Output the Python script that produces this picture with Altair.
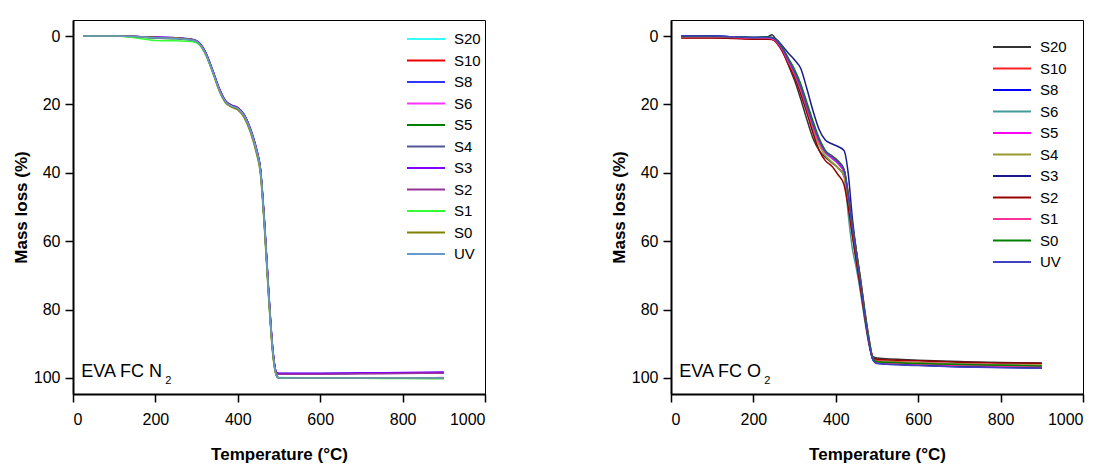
import altair as alt
import pandas as pd

SERIES = ["S20", "S10", "S8", "S6", "S5", "S4", "S3", "S2", "S1", "S0", "UV"]

# ---------------- N2 panel ----------------
T_N2 = [25, 100, 150, 200, 250, 280, 300, 320, 340, 355, 370, 385, 400, 415, 430, 445, 455, 465, 475, 485, 495, 500, 600, 700, 800, 900]
N2_S20 = [0, 0, 0.1, 0.4, 0.6, 0.8, 1.3, 4.2, 10.2, 15.3, 18.9, 20.2, 20.9, 22.8, 26.8, 32.6, 38.5, 54.0, 74.0, 91.5, 99.4, 99.9, 100, 100, 100, 100]
N2_S10 = [0, 0, 0.1, 0.4, 0.6, 0.9, 1.5, 4.5, 10.6, 15.6, 19.1, 20.4, 21.1, 23.1, 27.2, 33.2, 39.3, 55.5, 75.5, 92.3, 99.5, 100, 100.1, 100.1, 100.1, 100.1]
N2_S8 = [0, 0, 0.1, 0.3, 0.5, 0.8, 1.4, 4.4, 10.4, 15.4, 19.0, 20.3, 21.0, 23.0, 27.0, 33.0, 39.0, 55.0, 75.0, 91.8, 98.6, 98.7, 98.7, 98.6, 98.5, 98.4]
N2_S6 = [0, 0, 0.1, 0.4, 0.6, 0.9, 1.5, 4.6, 10.6, 15.6, 19.1, 20.4, 21.1, 23.2, 27.3, 33.3, 39.4, 55.6, 75.6, 92.4, 99.5, 100, 100, 100, 100, 99.9]
N2_S5 = [0, 0, 0.2, 0.6, 0.8, 1.1, 1.7, 4.8, 10.8, 15.8, 19.2, 20.5, 21.2, 23.3, 27.4, 33.5, 39.6, 56.0, 76.0, 92.6, 99.6, 100, 100.1, 100.1, 100.1, 100.2]
N2_S4 = [0, 0, 0.1, 0.4, 0.6, 0.9, 1.5, 4.5, 10.5, 15.5, 19.0, 20.3, 21.0, 23.0, 27.0, 33.0, 39.0, 55.0, 75.0, 91.8, 98.7, 98.8, 98.8, 98.7, 98.6, 98.5]
N2_S3 = [0, 0, 0.1, 0.3, 0.5, 0.8, 1.4, 4.3, 10.3, 15.3, 18.9, 20.2, 20.9, 22.9, 26.9, 32.8, 38.8, 54.6, 74.6, 91.6, 98.5, 98.6, 98.6, 98.5, 98.4, 98.3]
N2_S2 = [0, 0, 0.1, 0.4, 0.6, 0.9, 1.5, 4.5, 10.5, 15.5, 19.0, 20.3, 21.0, 23.0, 27.0, 33.0, 39.0, 55.0, 75.0, 91.9, 98.8, 98.9, 98.9, 98.8, 98.7, 98.6]
N2_S1 = [0, 0, 0.5, 1.3, 1.4, 1.5, 2.0, 5.0, 11.0, 16.0, 19.4, 20.6, 21.3, 23.4, 27.5, 33.6, 39.8, 56.2, 76.2, 92.8, 99.6, 100, 100.1, 100.1, 100.2, 100.2]
N2_S0 = [0, 0, 0.1, 0.4, 0.6, 0.9, 1.6, 4.8, 10.9, 16.0, 19.5, 20.8, 21.6, 23.8, 28.0, 34.2, 40.5, 57.0, 77.0, 93.2, 99.7, 100, 100, 100, 100, 100]
N2_UV = [0, 0, 0.1, 0.5, 0.7, 1.0, 1.6, 4.7, 10.7, 15.7, 19.2, 20.5, 21.2, 23.3, 27.4, 33.4, 39.6, 55.8, 75.8, 92.5, 99.6, 100, 100, 100, 100, 100]
N2_VALUES = [N2_S20, N2_S10, N2_S8, N2_S6, N2_S5, N2_S4, N2_S3, N2_S2, N2_S1, N2_S0, N2_UV]
N2_COLORS = ["#33ffff", "#ee0000", "#3333ff", "#ff33ff", "#007f00", "#55559a", "#7f00ff", "#993399", "#33ff33", "#808000", "#6699cc"]

# ---------------- O2 panel ----------------
T_O2 = [25, 100, 150, 200, 235, 245, 255, 270, 285, 300, 315, 330, 345, 360, 375, 390, 405, 420, 430, 440, 450, 460, 470, 480, 490, 500, 600, 700, 800, 900]
O2_S20 = [0.3, 0.3, 0.4, 0.5, 0.2, -0.4, 1.0, 4.0, 8.5, 13.0, 18.5, 24.5, 30.0, 33.5, 35.5, 37.0, 38.5, 41.0, 49, 58, 66, 74, 82, 89, 93.8, 94.2, 94.8, 95.2, 95.5, 95.6]
O2_S10 = [0.5, 0.5, 0.6, 0.8, 0.8, 0.9, 1.6, 4.2, 7.8, 11.5, 16, 21.5, 27, 31.5, 34, 35, 36.5, 39, 46, 55, 63, 71, 80, 88, 94, 95, 95.5, 95.9, 96.1, 96.3]
O2_S8 = [0, 0, 0.2, 0.4, 0.4, 0.6, 1.4, 3.8, 7.5, 11, 15.5, 21, 26.5, 31, 34, 35.5, 37, 39.5, 47, 56, 64, 72, 81, 89, 94.5, 95.6, 96.2, 96.6, 96.8, 97]
O2_S6 = [0.3, 0.3, 0.4, 0.6, 0.6, 0.8, 1.5, 4, 7.8, 11.5, 16, 21.5, 27, 31.5, 34.2, 35.8, 37.3, 40, 52, 62, 68, 75, 83, 90, 94.5, 95.3, 95.7, 96, 96.2, 96.4]
O2_S5 = [0.2, 0.2, 0.3, 0.5, 0.5, 0.7, 1.4, 3.8, 7.5, 11, 15.5, 21, 26.5, 31, 34, 35.6, 37.2, 39.8, 47, 56, 64, 72, 81, 89, 94.6, 95.5, 96, 96.4, 96.6, 96.8]
O2_S4 = [0.3, 0.3, 0.5, 0.7, 0.7, 0.9, 1.6, 4.2, 8, 11.8, 16.5, 22, 27.5, 32, 35, 36.8, 38.5, 41, 49, 57, 65, 73, 81, 89, 94.4, 95.2, 95.6, 96, 96.2, 96.3]
O2_S3 = [0, 0, 0.2, 0.4, 0.3, 0.4, 0.9, 2.8, 5, 7, 9.5, 15.5, 22, 27.5, 30.5, 31.5, 32.3, 33.5, 40, 53, 63, 72, 81, 89, 94.6, 95.7, 96.3, 96.7, 96.9, 97.1]
O2_S2 = [0.6, 0.6, 0.7, 0.9, 0.9, 1.0, 1.8, 4.5, 8.3, 12, 17, 22.5, 28.5, 33.5, 36.5, 38, 40.5, 43.5, 50, 58, 66, 74, 82, 89.5, 94.2, 94.5, 95, 95.4, 95.6, 95.7]
O2_S1 = [0.3, 0.3, 0.4, 0.6, 0.6, 0.8, 1.5, 3.9, 7.6, 11.2, 15.8, 21.2, 26.8, 31.2, 34, 35.3, 36.8, 39.3, 46.5, 55.5, 63.5, 71.5, 80.5, 88.5, 94.3, 95.4, 95.9, 96.3, 96.5, 96.7]
O2_S0 = [0.1, 0.1, 0.2, 0.4, 0.3, 0.4, 1.0, 3.2, 6.5, 9.8, 14, 19.5, 25, 30, 33.5, 35, 36.5, 39, 46, 55, 63, 71, 80, 88, 94.3, 95.3, 95.8, 96.1, 96.3, 96.5]
O2_UV = [0, 0, 0.2, 0.4, 0.4, 0.5, 1.2, 3.5, 7, 10.5, 15, 20.5, 26, 30.5, 33.8, 35.2, 36.8, 39.2, 46.5, 55.5, 63.8, 72, 81, 89, 94.7, 95.8, 96.4, 96.8, 97, 97.2]
O2_VALUES = [O2_S20, O2_S10, O2_S8, O2_S6, O2_S5, O2_S4, O2_S3, O2_S2, O2_S1, O2_S0, O2_UV]
O2_COLORS = ["#333333", "#ff2222", "#0000ff", "#449999", "#ff00ff", "#999933", "#1a1a8c", "#990000", "#ff3399", "#008000", "#4040c0"]

X_TICKS = [0, 200, 400, 600, 800, 1000]
Y_TICKS = [0, 20, 40, 60, 80, 100]

FONT = "Liberation Sans"


def long_df(temps, values):
    rows = []
    for name, vals in zip(SERIES, values):
        for i, (t, v) in enumerate(zip(temps, vals)):
            rows.append({"T": t, "loss": v, "series": name, "order": i})
    return pd.DataFrame(rows)


def panel(temps, values, colors, gas, legend_x, legend_y):
    df = long_df(temps, values)
    x = alt.X("T:Q", title="Temperature (°C)",
              scale=alt.Scale(domain=[0, 1000], nice=False),
              axis=alt.Axis(values=X_TICKS, format="d", labelPadding=9, titlePadding=19))
    y = alt.Y("loss:Q", title="Mass loss (%)",
              scale=alt.Scale(domain=[-4.7, 104.7], nice=False, reverse=True, zero=False),
              axis=alt.Axis(values=Y_TICKS, format="d", labelPadding=5, titlePadding=3))
    lines = alt.Chart(df).mark_line(strokeWidth=1.5, interpolate="monotone").encode(
        x=x, y=y,
        order="order:Q",
        color=alt.Color("series:N",
                        scale=alt.Scale(domain=SERIES, range=colors),
                        sort=SERIES,
                        legend=alt.Legend(title=None, orient="none", legendX=legend_x, legendY=legend_y,
                                          symbolType="stroke", symbolSize=1444, symbolStrokeWidth=2,
                                          labelFontSize=15, labelFont=FONT, labelColor="black",
                                          clipHeight=16, rowPadding=5.5, labelOffset=8)),
    )
    lab = pd.DataFrame({"T": [20], "loss": [98.2], "main": ["EVA FC " + gas[0]], "sub": [gas[1]]})
    main = alt.Chart(lab).mark_text(align="left", baseline="middle", fontSize=18, font=FONT, color="black").encode(
        x="T:Q", y="loss:Q", text="main:N")
    sub_dx = 84 if gas[0] == "N" else 85
    sub = alt.Chart(lab).mark_text(align="left", baseline="middle", fontSize=11, font=FONT, color="black",
                                   dx=sub_dx, dy=9).encode(
        x="T:Q", y="loss:Q", text="sub:N")
    return alt.layer(lines, main, sub).properties(width=412, height=374)


left = panel(T_N2, N2_VALUES, N2_COLORS, ("N", "2"), 333, 11)
right = panel(T_O2, O2_VALUES, O2_COLORS, ("O", "2"), 321, 19)

chart = alt.hconcat(left, right, spacing=122).resolve_scale(color="independent").properties(
    padding={"left": 3, "top": 11, "right": 5, "bottom": 0}
).configure_view(stroke="black", strokeWidth=1).configure_axis(
    grid=False, domainColor="black", domainWidth=2, tickColor="black", tickWidth=1.5, tickSize=8,
    labelFont=FONT, labelFontSize=16, labelColor="black",
    titleFont=FONT, titleFontSize=17, titleFontWeight="bold", titleColor="black"
)

chart.save("out.html", embed_options={"renderer": "svg", "actions": False})
